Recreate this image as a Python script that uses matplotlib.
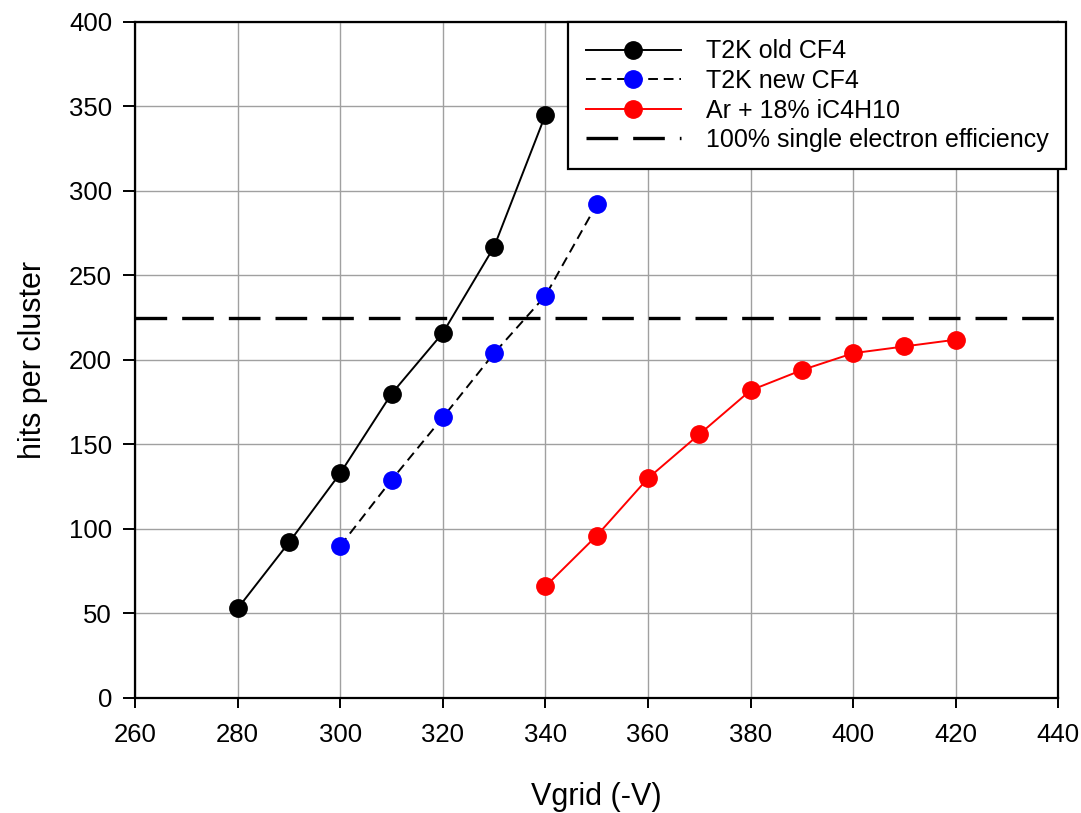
import matplotlib.pyplot as plt

# data
vgrid_old = [280, 290, 300, 310, 320, 330, 340]
hits_old = [53, 92, 133, 180, 216, 267, 345]

vgrid_new = [300, 310, 320, 330, 340, 350]
hits_new = [90, 129, 166, 204, 238, 292]

vgrid_ar = [340, 350, 360, 370, 380, 390, 400, 410, 420]
hits_ar = [66, 96, 130, 156, 182, 194, 204, 208, 212]

efficiency_level = 225

xticks = list(range(260, 441, 20))
yticks = list(range(0, 401, 50))

plt.rcParams['font.family'] = ['Liberation Sans', 'DejaVu Sans']

fig = plt.figure(figsize=(10.81, 8.13), dpi=100)
ax = fig.add_axes([0.125, 0.1415, 0.854, 0.8315])

ax.plot(vgrid_old, hits_old, color='black', lw=1.4, marker='o', ms=12.5,
        mec='black', mfc='black', label='T2K old CF4', zorder=3)
ax.plot(vgrid_new, hits_new, color='black', lw=1.4, ls=(0, (5, 3)), marker='o', ms=12.5,
        mec='blue', mfc='blue', label='T2K new CF4', zorder=3)
ax.plot(vgrid_ar, hits_ar, color='red', lw=1.4, marker='o', ms=12.5,
        mec='red', mfc='red', label='Ar + 18% iC4H10', zorder=3)
ax.axhline(efficiency_level, color='black', lw=2.4, ls=(0, (9.5, 4.5)),
           label='100% single electron efficiency', zorder=2)

ax.set_xlim(260, 440)
ax.set_ylim(0, 400)
ax.set_xticks(xticks)
ax.set_yticks(yticks)
ax.grid(True, color='#a0a0a0', lw=1.0)
ax.set_axisbelow(True)

for s in ax.spines.values():
    s.set_linewidth(1.6)
ax.tick_params(axis='x', direction='out', length=7, width=1.4, labelsize=18.5, pad=11)
ax.tick_params(axis='y', direction='out', length=8.6, width=1.4, labelsize=18.5, pad=8)

ax.set_xlabel('Vgrid (-V)', fontsize=22, labelpad=25)
ax.set_ylabel('hits per cluster', fontsize=22, labelpad=15)

leg = ax.legend(loc='upper left', bbox_to_anchor=(568 / 1081, 1 - 22 / 813),
                bbox_transform=fig.transFigure, fontsize=18,
                frameon=True, fancybox=False, framealpha=1, edgecolor='black',
                handlelength=3.8, handletextpad=1.0, labelspacing=0.22,
                borderpad=0.7, borderaxespad=0)
leg.get_frame().set_linewidth(1.6)

fig.savefig('out.png', dpi=100)
